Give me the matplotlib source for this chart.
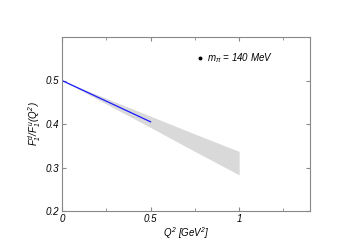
import matplotlib
matplotlib.use('Agg')
import matplotlib.pyplot as plt
import numpy as np

plt.rcParams['font.family'] = ['Liberation Sans', 'DejaVu Sans']
plt.rcParams['mathtext.fontset'] = 'custom'
plt.rcParams['mathtext.it'] = 'Liberation Sans:italic'
plt.rcParams['mathtext.rm'] = 'Liberation Sans:italic'

# data
q2_line = [0.0, 0.5]
ratio_line = [0.5, 0.405]

q2_band = [0.0, 0.25, 0.5, 0.75, 1.0]
band_upper = [0.5, 0.459, 0.418, 0.377, 0.337]
band_lower = [0.5, 0.446, 0.392, 0.337, 0.283]

label_q2, label_ratio = 0.78, 0.552

fig = plt.figure(figsize=(3.51, 2.48), dpi=100)
ax = fig.add_axes([62/351, 1-211/248, 248/351, 174/248])

ax.fill_between(q2_band, band_lower, band_upper, color='#d9d9d9', lw=0)
ax.plot(q2_line, ratio_line, color='#1a1aff', lw=0.9)
ax.plot([label_q2], [label_ratio], 'o', color='black', ms=1.8)
ax.text(label_q2 + 0.04, label_ratio, r'$m_{\pi}$ = 140 MeV', fontsize=7,
        style='italic', va='center')

ax.set_xlim(0, 1.4)
ax.set_ylim(0.2, 0.6)
ax.set_xticks([0, 0.5, 1])
ax.set_xticklabels(['0', '0.5', '1'], style='italic')
ax.set_xticks([0.25, 0.75, 1.25], minor=True)
ax.set_yticks([0.2, 0.3, 0.4, 0.5])
ax.set_yticklabels(['0.2', '0.3', '0.4', '0.5'], style='italic')
ax.tick_params(which='both', direction='in', top=True, right=True,
               labelsize=7, color='#888888', pad=2)
ax.tick_params(which='major', length=3)
ax.tick_params(which='minor', length=2.5)
for s in ax.spines.values():
    s.set_color('#888888')
    s.set_linewidth(0.8)

ax.set_xlabel(r'$Q^2$ [GeV$^2$]', fontsize=7, style='italic', labelpad=1)
ax.set_ylabel(r'$F_1^d/F_1^u(Q^2)$', fontsize=7, style='italic', labelpad=2)

fig.savefig('out.png', dpi=100)
